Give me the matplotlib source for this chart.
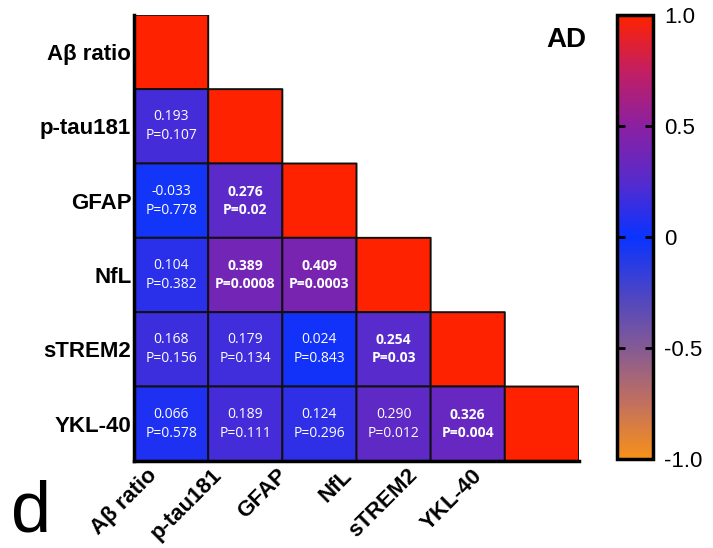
import numpy as np
import matplotlib.pyplot as plt
from matplotlib.colors import LinearSegmentedColormap
from matplotlib.transforms import ScaledTranslation

plt.rcParams['font.family'] = ['Liberation Sans', 'DejaVu Sans']

labels = ['Aβ ratio', 'p-tau181', 'GFAP', 'NfL', 'sTREM2', 'YKL-40']

# lower triangle, row by row (row i has i entries)
r_rows = [
    [],
    [0.193],
    [-0.033, 0.276],
    [0.104, 0.389, 0.409],
    [0.168, 0.179, 0.024, 0.254],
    [0.066, 0.189, 0.124, 0.290, 0.326],
]
p_rows = [
    [],
    ['0.107'],
    ['0.778', '0.02'],
    ['0.382', '0.0008', '0.0003'],
    ['0.156', '0.134', '0.843', '0.03'],
    ['0.578', '0.111', '0.296', '0.012', '0.004'],
]
bold_rows = [
    [],
    [False],
    [False, True],
    [False, True, True],
    [False, False, False, True],
    [False, False, False, False, True],
]

n = len(labels)
r = np.full((n, n), np.nan)
for i in range(n):
    r[i, i] = 1.0
    for j, v in enumerate(r_rows[i]):
        r[i, j] = v

cmap = LinearSegmentedColormap.from_list('prism_ad', [
    (0.0, '#f7901a'),
    (0.125, '#c2705e'),
    (0.25, '#845a94'),
    (0.375, '#4a44c6'),
    (0.5, '#0a33ff'),
    (0.625, '#562bcd'),
    (0.75, '#8a20a2'),
    (0.875, '#c21f62'),
    (1.0, '#ff2200'),
])

fig = plt.figure(figsize=(7.13, 5.48), dpi=100)
ax = fig.add_axes([0.188, 0.159, 0.624, 0.814])

mesh = ax.pcolor(np.ma.masked_invalid(r), cmap=cmap, vmin=-1, vmax=1,
                 edgecolors='#111111', linewidth=1.4)
ax.set_xlim(0, n)
ax.set_ylim(n, 0)

for i in range(n):
    for j, v in enumerate(r_rows[i]):
        w = 'bold' if bold_rows[i][j] else 'normal'
        ax.text(j + 0.5, i + 0.5, f'{v:.3f}\nP={p_rows[i][j]}', ha='center', va='center',
                color='white', fontsize=10, fontweight=w, linespacing=1.35,
                family=['Open Sans', 'DejaVu Sans'])

for s in ['top', 'right']:
    ax.spines[s].set_visible(False)
for s in ['left', 'bottom']:
    ax.spines[s].set_linewidth(2.5)

ax.set_yticks(np.arange(n) + 0.5)
ax.set_yticklabels(labels, fontsize=16, fontweight='bold')
ax.set_xticks(np.arange(n) + 0.5)
ax.set_xticklabels(labels, fontsize=16, fontweight='bold', rotation=45,
                   ha='right', va='top', rotation_mode='anchor')
ax.tick_params(axis='y', length=0, pad=2)
ax.tick_params(axis='x', length=0, pad=3)
for k, lab in enumerate(ax.get_xticklabels()):
    lab.set_transform(lab.get_transform() + ScaledTranslation(-(0.25 + 0.09 * k), 0, fig.dpi_scale_trans))

cax = fig.add_axes([0.865, 0.1624, 0.051, 0.810])
cb = fig.colorbar(mesh, cax=cax, ticks=[-1, -0.5, 0, 0.5, 1])
cb.ax.set_yticklabels(['-1.0', '-0.5', '0', '0.5', '1.0'], fontsize=16)
cb.ax.tick_params(direction='in', left=True, right=True, length=6, width=2, pad=8)
cb.outline.set_linewidth(2.5)

fig.text(0.822, 0.951, 'AD', ha='right', va='top', fontsize=20, fontweight='bold')
fig.text(0.015, 0.003, 'd', ha='left', va='bottom', fontsize=52)

fig.savefig('out.png', dpi=100)
